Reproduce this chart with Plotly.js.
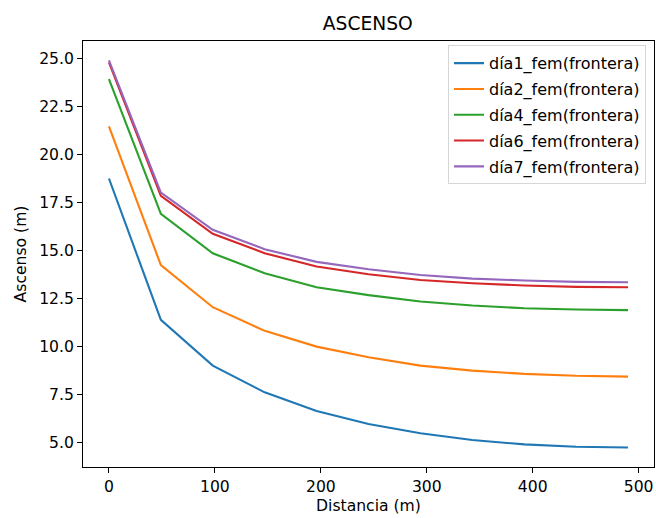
<!DOCTYPE html>
<html>
<head>
<meta charset="utf-8">
<script src="https://cdn.plot.ly/plotly-3.0.1.min.js"></script>
<style>html,body{margin:0;padding:0;background:#fff;}#chart{width:656px;height:518px;}</style>
</head>
<body>
<div id="chart"></div>
<script>
const distancia = [0, 49, 98, 147, 196, 245, 294, 343, 392, 441, 490];
const dia1 = [18.75, 11.39, 9.01, 7.62, 6.65, 5.97, 5.49, 5.14, 4.91, 4.79, 4.75];
const dia2 = [21.46, 14.24, 12.05, 10.82, 10.0, 9.45, 9.01, 8.75, 8.58, 8.48, 8.44];
const dia4 = [23.92, 16.91, 14.86, 13.82, 13.09, 12.68, 12.35, 12.14, 12.0, 11.93, 11.9];
const dia6 = [24.79, 17.85, 15.87, 14.86, 14.17, 13.77, 13.47, 13.30, 13.18, 13.11, 13.09];
const dia7 = [24.9, 18.02, 16.08, 15.07, 14.41, 14.03, 13.73, 13.54, 13.44, 13.37, 13.35];
const seriesNames = ["día1_fem(frontera)", "día2_fem(frontera)", "día4_fem(frontera)", "día6_fem(frontera)", "día7_fem(frontera)"];
const seriesValues = [dia1, dia2, dia4, dia6, dia7];
const colors = ["#1f77b4", "#ff7f0e", "#2ca02c", "#d62728", "#9467bd"];

const font = "DejaVu Sans, sans-serif";
const fs = 15.6;
const traces = seriesValues.map((v, i) => ({
  x: distancia, y: v, type: "scatter", mode: "lines",
  name: seriesNames[i], legendgroup: "g" + i,
  line: {color: colors[i], width: 2.1}
}));

const layout = {
  width: 656, height: 518,
  margin: {l: 83, r: 2, t: 41, b: 51},
  paper_bgcolor: "#fff", plot_bgcolor: "#fff",
  font: {family: font, size: fs, color: "#262626"},
  title: {text: "ASCENSO", font: {family: font, size: 18.7, color: "#000"}, x: 0.5607, xanchor: "center", y: 0.955, yanchor: "middle"},
  showlegend: true,
  legend: {x: 0.986, xanchor: "right", y: 0.99, yanchor: "top",
    bgcolor: "rgba(255,255,255,0.8)", bordercolor: "#d6d6d6", borderwidth: 1,
    font: {family: font, size: 16, color: "#000"}, tracegroupgap: 2, traceorder: "grouped"},
  xaxis: {
    range: [-24.5, 514.5], tick0: 0, dtick: 100, ticks: "outside", ticklen: 5, tickwidth: 1, tickcolor: "#000",
    showline: true, linecolor: "#000", linewidth: 1, mirror: true, showgrid: false, zeroline: false,
    tickfont: {family: font, size: fs, color: "#000"},
    title: {text: "Distancia (m)", font: {family: font, size: fs, color: "#000"}, standoff: 5}
  },
  yaxis: {
    range: [3.734, 25.906], tick0: 0, dtick: 2.5, tickformat: ".1f", ticks: "outside", ticklen: 5, tickwidth: 1, tickcolor: "#000",
    showline: true, linecolor: "#000", linewidth: 1, mirror: true, showgrid: false, zeroline: false,
    tickfont: {family: font, size: fs, color: "#000"},
    title: {text: "Ascenso (m)", font: {family: font, size: fs, color: "#000"}, standoff: 8}
  }
};
Plotly.newPlot("chart", traces, layout, {displayModeBar: false, staticPlot: true});
</script>
</body>
</html>
